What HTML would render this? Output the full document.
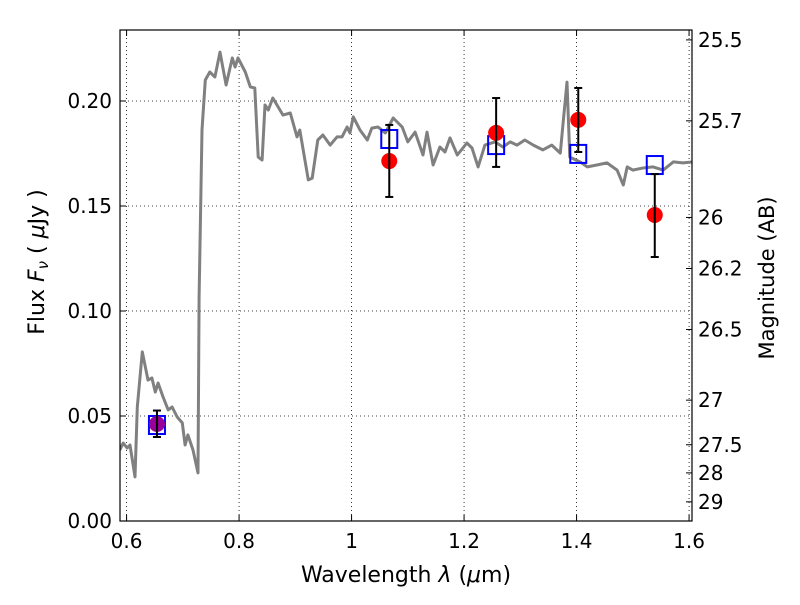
<!DOCTYPE html>
<html><head><meta charset="utf-8"><style>
body{margin:0;background:#fff;}
svg text{font-family:"DejaVu Sans","Liberation Sans",sans-serif;fill:#000;}
</style></head><body>
<svg id="chart" width="800" height="600" viewBox="0 0 800 600" xmlns="http://www.w3.org/2000/svg"></svg>
<script>
const specLam=[0.588,0.594,0.601,0.606,0.615,0.619,0.628,0.638,0.645,0.651,0.656,0.665,0.674,0.681,0.690,0.699,0.704,0.709,0.718,0.727,0.729,0.734,0.740,0.748,0.757,0.766,0.777,0.788,0.793,0.798,0.811,0.820,0.828,0.834,0.841,0.846,0.852,0.860,0.878,0.891,0.903,0.908,0.923,0.930,0.940,0.949,0.962,0.974,0.983,0.992,0.997,1.003,1.015,1.028,1.036,1.047,1.060,1.074,1.090,1.100,1.113,1.127,1.134,1.145,1.157,1.166,1.175,1.188,1.205,1.214,1.225,1.237,1.255,1.269,1.282,1.294,1.308,1.323,1.340,1.356,1.371,1.376,1.383,1.388,1.406,1.419,1.436,1.454,1.472,1.483,1.490,1.500,1.518,1.536,1.554,1.572,1.589,1.607];
const specFlux=[0.0338,0.0371,0.0348,0.0362,0.0210,0.0543,0.0805,0.0671,0.0681,0.0614,0.0657,0.0590,0.0529,0.0543,0.0495,0.0467,0.0362,0.0410,0.0338,0.0229,0.1067,0.1862,0.2100,0.2138,0.2114,0.2233,0.2076,0.2205,0.2162,0.2205,0.2138,0.2067,0.2062,0.1733,0.1719,0.1981,0.1957,0.2014,0.1933,0.1943,0.1829,0.1862,0.1624,0.1633,0.1814,0.1838,0.1790,0.1829,0.1829,0.1876,0.1848,0.1924,0.1862,0.1814,0.1871,0.1876,0.1848,0.1919,0.1876,0.1805,0.1852,0.1743,0.1852,0.1695,0.1781,0.1757,0.1824,0.1743,0.1800,0.1776,0.1686,0.1790,0.1805,0.1781,0.1805,0.1790,0.1814,0.1790,0.1767,0.1790,0.1752,0.1895,0.2090,0.1733,0.1710,0.1686,0.1695,0.1705,0.1671,0.1600,0.1686,0.1671,0.1681,0.1686,0.1671,0.1710,0.1705,0.1710];
const photLam=[0.654,1.067,1.257,1.403,1.539];
const photFlux=[0.0462,0.1714,0.1848,0.1910,0.1457];
const photErrHi=[0.0526,0.1886,0.2014,0.2062,0.1652];
const photErrLo=[0.0400,0.1543,0.1686,0.1757,0.1257];
const modelFlux=[0.0457,0.1819,0.1790,0.1748,0.1695];
const photColor=['#990099','red','red','red','red'];
const xTicks=[0.6,0.8,1.0,1.2,1.4,1.6];
const xTickLabels=['0.6','0.8','1','1.2','1.4','1.6'];
const yTicks=[0,0.05,0.10,0.15,0.20];
const yTickLabels=['0.00','0.05','0.10','0.15','0.20'];
const magTicks=[25.5,25.7,26,26.2,26.5,27,27.5,28,29];
const magTickLabels=['25.5','25.7','26','26.2','26.5','27','27.5','28','29'];

const L=120,R=692,T=30,B=521;
const xMin=0.5883,xMax=1.6052,yMin=0,yMax=0.2338;
const X=v=>L+(v-xMin)/(xMax-xMin)*(R-L);
const Y=v=>B-(v-yMin)/(yMax-yMin)*(B-T);
const magToFlux=m=>Math.pow(10,(23.9-m)/2.5);
const svg=document.getElementById('chart');
const NS='http://www.w3.org/2000/svg';
function mk(tag,attrs,parent){const e=document.createElementNS(NS,tag);for(const k in attrs)e.setAttribute(k,attrs[k]);(parent||svg).appendChild(e);return e;}

xTicks.forEach((t,i)=>{
  const l=mk('line',{x1:X(t),x2:X(t),y1:T,y2:B,stroke:'#000','stroke-width':0.8,'stroke-dasharray':'1,3'});
  
  
  mk('line',{x1:X(t),x2:X(t),y1:B,y2:B-6,stroke:'#000','stroke-width':1});
  mk('line',{x1:X(t),x2:X(t),y1:T,y2:T+6,stroke:'#000','stroke-width':1});
  const tx=mk('text',{x:X(t),y:B+27,'font-size':20,'text-anchor':'middle'});
  tx.textContent=xTickLabels[i];
  
  
});
yTicks.forEach((t,i)=>{
  const l=mk('line',{x1:L,x2:R,y1:Y(t),y2:Y(t),stroke:'#000','stroke-width':0.8,'stroke-dasharray':'1,3'});
  
  
  mk('line',{x1:L,x2:L+6,y1:Y(t),y2:Y(t),stroke:'#000','stroke-width':1});
  const tx=mk('text',{x:L-8,y:Y(t)+7,'font-size':20,'text-anchor':'end'});
  tx.textContent=yTickLabels[i];
  
  
});
magTicks.forEach((m,i)=>{
  const y=Y(magToFlux(m));
  mk('line',{x1:R,x2:R-6,y1:y,y2:y,stroke:'#000','stroke-width':1});
  const tx=mk('text',{x:R+6,y:y+7,'font-size':20});
  tx.textContent=magTickLabels[i];
  
  
});

const clip=mk('clipPath',{id:'pc'});mk('rect',{x:L,y:T,width:R-L,height:B-T},clip);
const d=specLam.map((l,i)=>(i?'L':'M')+X(l).toFixed(1)+','+Y(specFlux[i]).toFixed(1)).join(' ');
const sp=mk('path',{d:d,fill:'none',stroke:'#808080','stroke-width':3,'stroke-linejoin':'round','clip-path':'url(#pc)'});



photLam.forEach((l,i)=>{
  const s=mk('rect',{x:X(l)-8,y:Y(modelFlux[i])-9,width:16,height:18,fill:'none',stroke:'#0000ff','stroke-width':2});
  
  
});
photLam.forEach((l,i)=>{
  const x=X(l);
  const c=mk('circle',{cx:x,cy:Y(photFlux[i]),r:8,fill:photColor[i]});
  
  
  const g=mk('g',{stroke:'#000','stroke-width':2});
  
  
  mk('line',{x1:x,x2:x,y1:Y(photErrHi[i]),y2:Y(photErrLo[i])},g);
  mk('line',{x1:x-4,x2:x+4,y1:Y(photErrHi[i]),y2:Y(photErrHi[i])},g);
  mk('line',{x1:x-4,x2:x+4,y1:Y(photErrLo[i]),y2:Y(photErrLo[i])},g);
});

const fr=mk('rect',{x:L,y:T,width:R-L,height:B-T,fill:'none',stroke:'#000','stroke-width':1.2});


</script>
<div style="position:absolute;left:0;top:0;width:800px;height:600px;pointer-events:none;">
<svg width="800" height="600">
<text x="406" y="582" font-size="22" text-anchor="middle">Wavelength  <tspan font-style="italic">λ</tspan> (<tspan font-style="italic">μ</tspan>m)</text>
<text transform="translate(44,262) rotate(-90)" font-size="22" text-anchor="middle">Flux  <tspan font-style="italic">F</tspan><tspan font-style="italic" font-size="15" dy="4">ν</tspan><tspan dy="-4">  (  </tspan><tspan font-style="italic">μ</tspan>Jy )</text>
<text transform="translate(774,278) rotate(-90)" font-size="21" text-anchor="middle">Magnitude (AB)</text>
</svg></div>
</body></html>
